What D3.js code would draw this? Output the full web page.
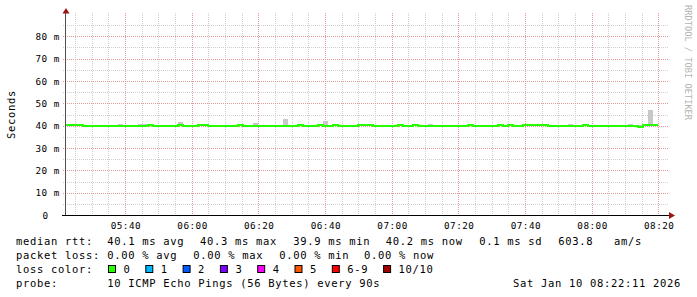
<!DOCTYPE html>
<html><head><meta charset="utf-8">
<script src="https://cdn.jsdelivr.net/npm/d3@7"></script>
<style>
html,body{margin:0;padding:0;background:#fff;}
svg{display:block;}
text{font-family:"DejaVu Sans Mono",monospace;}
</style></head>
<body>
<div id="chart"></div>
<script>
// ---- data ----
const startTime = new Date(2026, 0, 10, 5, 22, 11);   // left edge of the graph
const endTime   = new Date(2026, 0, 10, 8, 22, 11);   // right edge ("now")
const stepSeconds = 90;
const firstSlotOffset = -54; // seconds: first sample starts slightly before the left edge

// median rtt (ms) per 90 s sample
const medianRtt = [
  40.35,40.35,40.35,40.35,40.0,40.0,40.0,40.0,40.0,40.0,
  40.0,40.0,40.0,40.0,40.0,40.0,40.0,40.35,40.0,40.0,
  40.0,40.0,40.0,40.35,40.0,40.0,40.0,40.35,40.35,40.0,
  40.0,40.0,40.0,40.0,40.0,40.35,40.0,40.0,40.0,40.0,
  40.0,40.0,40.0,40.0,40.0,40.0,40.0,40.35,40.0,40.0,
  40.0,40.35,40.0,40.0,40.35,40.0,40.0,40.0,40.0,40.35,
  40.35,40.35,40.0,40.0,40.0,40.0,40.0,40.35,40.0,40.0,
  40.35,40.0,40.0,40.0,40.0,40.0,40.0,40.0,40.0,40.0,
  40.0,40.35,40.0,40.0,40.0,40.0,40.0,40.35,40.0,40.35,
  40.0,40.0,40.35,40.35,40.35,40.35,40.35,40.0,40.0,40.0,
  40.0,40.0,40.0,40.0,40.35,40.0,40.0,40.0,40.0,40.0,
  40.0,40.0,40.0,40.0,40.0,39.8,40.35,40.35,40.35
];
// highest ping (smoke top, ms) per sample
const maxRtt = [
  40.4,40.4,40.4,40.4,40.4,40.4,40.4,40.4,40.4,40.4,
  40.4,40.9,40.4,40.4,40.4,40.9,40.9,40.4,40.4,40.4,
  40.4,40.4,40.4,41.9,40.4,40.4,40.4,40.4,40.4,40.4,
  40.4,40.4,40.4,40.4,40.4,40.4,40.4,40.4,41.4,40.4,
  40.4,40.4,40.4,40.4,43.2,40.4,40.4,40.4,40.4,40.4,
  40.4,40.4,42.3,40.4,40.4,40.4,40.4,40.4,40.4,40.4,
  40.4,40.4,40.4,40.4,40.4,40.4,40.4,40.4,40.4,40.4,
  40.4,40.4,40.4,40.9,40.4,40.4,40.4,40.4,40.4,40.4,
  40.4,40.4,40.4,40.4,40.4,40.4,40.4,40.4,40.4,40.4,
  40.4,40.4,40.4,40.4,40.4,40.4,40.4,40.4,40.4,40.4,
  40.4,40.9,40.4,40.4,40.4,40.4,40.4,40.4,40.4,40.4,
  40.4,40.4,40.4,40.9,40.4,40.4,40.4,47.1,40.4
];
const yTickValues = [0,10,20,30,40,50,60,70,80];
const yTickLabels = ["0","10 m","20 m","30 m","40 m","50 m","60 m","70 m","80 m"];
const yMinorValues = [5,15,25,35,45,55,65,75,85];
const lossLabels = ["0","1","2","3","4","5","6-9","10/10"];
const lossColors = ["#26ff00","#00b8ff","#0059ff","#7e00ff","#ff00ff","#ff5500","#ff0000","#a10000"];
const legendRows = [
  {label:"median rtt:",  items:["40.1 ms avg","40.3 ms max","39.9 ms min","40.2 ms now","0.1 ms sd","603.8","am/s"]},
  {label:"packet loss:", items:["0.00 % avg","0.00 % max","0.00 % min","0.00 % now"]}
];
const probeText = "10 ICMP Echo Pings (56 Bytes) every 90s";
const dateText = "Sat Jan 10 08:22:11 2026";

// ---- layout ----
const W = 697, H = 297;
const plot = {left:66, right:666, top:14.5, bottom:215.5};

const svg = d3.select("#chart").append("svg").attr("width", W).attr("height", H);
svg.append("rect").attr("width", W).attr("height", H).attr("fill", "#fff");

const x = d3.scaleTime().domain([startTime, endTime]).range([plot.left, plot.right]);
const y = d3.scaleLinear().domain([0, 90]).range([plot.bottom, plot.top]);

const slotStart = i => new Date(startTime.getTime() + (firstSlotOffset + stepSeconds * i) * 1000);
const samples = medianRtt.map((m, i) => ({t0: slotStart(i), t1: slotStart(i + 1), med: m, max: maxRtt[i]}));

// ---- grid ----
const grid = svg.append("g");
const minorTimes = x.ticks(d3.timeMinute.every(5));
const majorTimes = x.ticks(d3.timeMinute.every(20));
const px = v => Math.floor(v) + 0.5;

grid.selectAll("line.hmin").data(yMinorValues).join("line")
  .attr("x1", 63).attr("x2", 669)
  .attr("y1", d => px(y(d))).attr("y2", d => px(y(d)))
  .attr("stroke", "#cfcfcf").attr("stroke-dasharray", "1,1");
grid.selectAll("line.vmin").data(minorTimes.filter(t => t.getMinutes() % 20 !== 0)).join("line")
  .attr("x1", d => px(x(d))).attr("x2", d => px(x(d)))
  .attr("y1", 13).attr("y2", 215)
  .attr("stroke", "#cfcfcf").attr("stroke-dasharray", "1,1");
grid.selectAll("line.hmaj").data(yTickValues.slice(1)).join("line")
  .attr("x1", 63).attr("x2", 669)
  .attr("y1", d => px(y(d))).attr("y2", d => px(y(d)))
  .attr("stroke", "#e39a9a").attr("stroke-dasharray", "1,1");
grid.selectAll("line.vmaj").data(majorTimes).join("line")
  .attr("x1", d => px(x(d))).attr("x2", d => px(x(d)))
  .attr("y1", 13).attr("y2", 217)
  .attr("stroke", "#e39a9a").attr("stroke-dasharray", "1,1");

// ---- data ----
svg.append("clipPath").attr("id", "clip").append("rect")
  .attr("x", plot.left).attr("y", 0).attr("width", plot.right - plot.left).attr("height", plot.bottom);
const dataG = svg.append("g").attr("clip-path", "url(#clip)");

// smoke (spread of pings above the median)
dataG.selectAll("rect.smoke").data(samples.filter(d => d.max > d.med)).join("rect")
  .attr("x", d => x(d.t0)).attr("width", d => x(d.t1) - x(d.t0))
  .attr("y", d => y(d.max)).attr("height", d => y(d.med) - y(d.max))
  .attr("fill", "#c8c8c8").attr("shape-rendering", "crispEdges");

// median line, coloured by loss (all 0 loss here)
const linePts = samples.map(d => ({t: d.t0, v: d.med}));
linePts.push({t: samples[samples.length - 1].t1, v: samples[samples.length - 1].med});
const line = d3.line().x(d => x(d.t)).y(d => y(d.v)).curve(d3.curveStepAfter);
dataG.append("path").datum(linePts).attr("d", line)
  .attr("fill", "none").attr("stroke", lossColors[0]).attr("stroke-width", 2)
  .attr("shape-rendering", "crispEdges");

// ---- axes ----
svg.append("line").attr("x1", 65.5).attr("x2", 65.5).attr("y1", 216).attr("y2", 12)
  .attr("stroke", "#505050");
svg.append("line").attr("x1", 62).attr("x2", 670).attr("y1", 215.5).attr("y2", 215.5)
  .attr("stroke", "#000");
svg.append("path").attr("d", "M62.5,13.5 L66,8 L69.5,13.5 Z").attr("fill", "#9b1616");
svg.append("path").attr("d", "M669,212 L675,215.5 L669,219 Z").attr("fill", "#9b1616");

// y tick labels
svg.append("g").selectAll("text").data(yTickValues).join("text")
  .attr("x", (d, i) => yTickLabels[i].length > 1 ? 35.5 : 42.5)
  .attr("y", d => y(d) + 3.3)
  .attr("font-size", "9.3px").attr("letter-spacing", "0.5px").attr("fill", "#000")
  .text((d, i) => yTickLabels[i]);

// x tick labels
const fmt = d3.timeFormat("%H:%M");
svg.append("g").selectAll("text").data(majorTimes).join("text")
  .attr("x", d => x(d) + 0.5).attr("y", 228.5).attr("text-anchor", "middle")
  .attr("font-size", "9.3px").attr("letter-spacing", "0.5px").attr("fill", "#000")
  .text(d => fmt(d));

// y axis title
svg.append("text").attr("transform", "translate(14.5,114.5) rotate(-90)")
  .attr("text-anchor", "middle").attr("font-size", "10.5px").attr("letter-spacing", "0.68px")
  .attr("fill", "#000").text("Seconds");

// watermark
svg.append("text").attr("transform", "translate(684.5,5) rotate(90)")
  .attr("font-size", "8.7px").attr("fill", "#b4b4b4").text("RRDTOOL / TOBI OETIKER");

// ---- legend ----
const leg = svg.append("g").attr("font-size", "10.5px").attr("letter-spacing", "0.68px").attr("fill", "#000");
const rowY = [245, 259, 273, 287];
const itemX = [[107.3, 200, 293.3, 385.7, 479.3, 558.3, 614], [107.3, 193.3, 279.3, 364]];
legendRows.forEach((r, ri) => {
  leg.append("text").attr("x", 16).attr("y", rowY[ri]).text(r.label);
  r.items.forEach((it, ii) => leg.append("text").attr("x", itemX[ri][ii]).attr("y", rowY[ri]).text(it));
});
leg.append("text").attr("x", 16).attr("y", rowY[2]).text("loss color:");
let lx = 108.5;
lossLabels.forEach((lab, i) => {
  leg.append("rect").attr("x", lx).attr("y", 265.5).attr("width", 7).attr("height", 7)
    .attr("fill", lossColors[i]).attr("stroke", "#000").attr("stroke-width", 1);
  leg.append("text").attr("x", lx + 15).attr("y", rowY[2]).text(lab);
  lx = lx + 15 + lab.length * 7 + 15.3;
});
leg.append("text").attr("x", 16).attr("y", rowY[3]).text("probe:");
leg.append("text").attr("x", 107.3).attr("y", rowY[3]).text(probeText);
leg.append("text").attr("x", 513).attr("y", rowY[3]).text(dateText);
</script>
</body></html>
